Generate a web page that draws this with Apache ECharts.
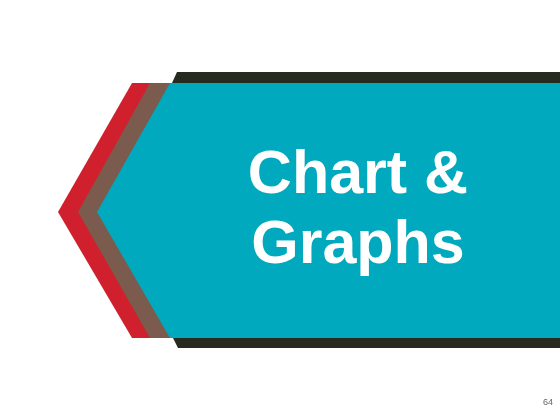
<!DOCTYPE html>
<html>
<head>
<meta charset="utf-8">
<script src="https://cdn.jsdelivr.net/npm/echarts@6/dist/echarts.min.js"></script>
<style>
html,body{margin:0;padding:0;background:#fff;}
#main{width:560px;height:420px;}
</style>
</head>
<body>
<div id="main"></div>
<script>
// slide texts
var titleLines = ['Chart &', 'Graphs'];
var pageNumber = ['64'];

var myChart = echarts.init(document.getElementById('main'));

function poly(points, color){
    return {
        type: 'polygon',
        shape: {points: points},
        style: {fill: color},
        silent: true
    };
}

var elements = [
    // dark band on top
    poly([[177,72],[560,72],[560,83],[172,83]], '#272a1e'),
    // red, brown and teal chevrons
    poly([[132,83],[560,83],[560,338],[132,338],[58,212]], '#d0202d'),
    poly([[150,83],[560,83],[560,338],[150,338],[78,212]], '#7a5b4d'),
    poly([[170,83],[560,83],[560,338],[170,338],[97,212]], '#00a9bd'),
    // dark band at bottom
    poly([[173,338],[560,338],[560,348],[178,348]], '#272a1e')
];

titleLines.forEach(function(line, i){
    elements.push({
        type: 'text',
        x: 358,
        y: 207 + i * 70,
        style: {
            text: line,
            fill: '#ffffff',
            font: 'bold 61px "Liberation Sans", Arial, sans-serif',
            textAlign: 'center',
            textVerticalAlign: 'bottom'
        }
    });
});

elements.push({
    type: 'text',
    x: 553,
    y: 403,
    style: {
        text: pageNumber[0],
        fill: '#666666',
        font: '9px "Liberation Sans", Arial, sans-serif',
        textAlign: 'right',
        textVerticalAlign: 'middle'
    }
});

var option = {
    backgroundColor: '#ffffff',
    animation: false,
    graphic: {elements: elements}
};

myChart.setOption(option);
</script>
</body>
</html>
